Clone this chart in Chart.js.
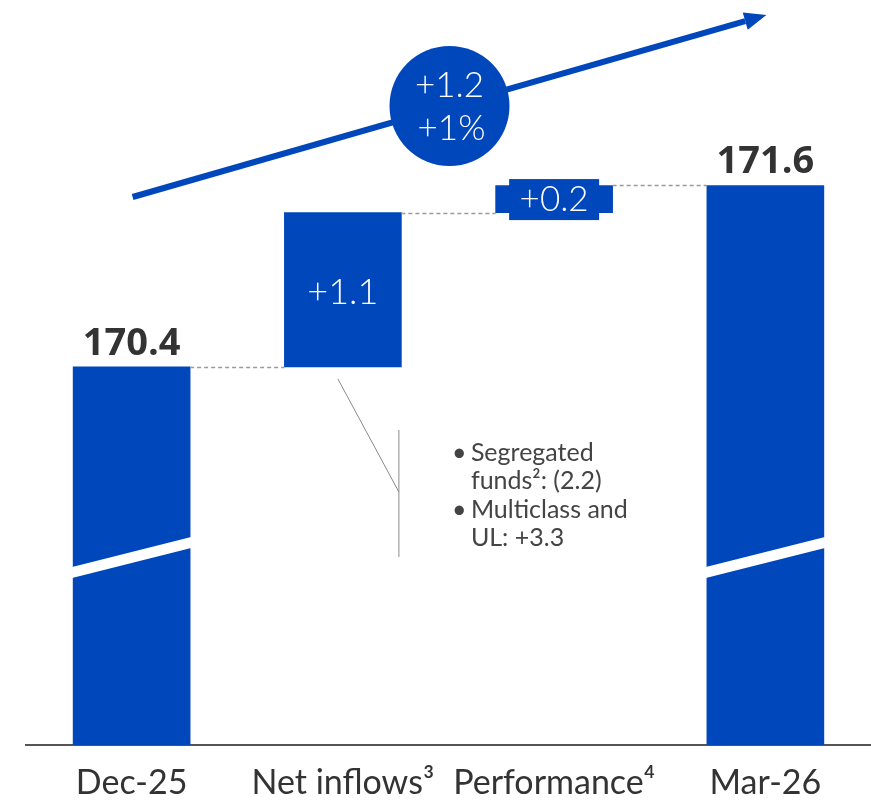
<!DOCTYPE html>
<html>
<head>
<meta charset="utf-8">
<script src="https://cdn.jsdelivr.net/npm/chart.js@4.4.1/dist/chart.umd.min.js"></script>
<style>
  html, body { margin: 0; padding: 0; background: #fff; }
  #wrap { width: 871px; height: 803px; position: relative; }
</style>
</head>
<body>
<div id="wrap"><canvas id="graficoAum"></canvas></div>
<script>
// categorias e valores
const categories = ['Dec-25', 'Net inflows³', 'Performance⁴', 'Mar-26'];
const startTotal = 170.4;
const netInflows = 1.02;     // altura da barra como desenhada
const performance = 0.18;
const endTotal = 171.6;
const totalLabels = ['170.4', '171.6'];
const stepLabels = ['+1.1', '+0.2'];
const changeLabels = ['+1.2', '+1%'];
const bulletLines = [
    ['•', 'Segregated'],
    ['', 'funds²: (2.2)'],
    ['•', 'Multiclass and'],
    ['', 'UL: +3.3']
];
// eixo cortado
const axisMin = 167.9;
const axisMax = 172.8;
const breakValue = 169.14;

const BLUE = '#0047BB';

const floating = [
    [axisMin, startTotal],
    [startTotal, startTotal + netInflows],
    [startTotal + netInflows, startTotal + netInflows + performance],
    [axisMin, endTotal]
];

const decor = {
    id: 'decor',
    afterDatasetsDraw(chart) {
        const ctx = chart.ctx;
        const y = chart.scales.y;
        const bars = chart.getDatasetMeta(0).data;
        const half = b => b.width / 2;

        ctx.save();

        // quebra diagonal nas barras de total
        const yb = y.getPixelForValue(breakValue);
        [bars[0], bars[3]].forEach(b => {
            const l = b.x - half(b) - 1, r = b.x + half(b) + 1;
            ctx.fillStyle = '#fff';
            ctx.beginPath();
            ctx.moveTo(l, yb + 9.5);
            ctx.lineTo(r, yb - 20.5);
            ctx.lineTo(r, yb - 9.5);
            ctx.lineTo(l, yb + 20.5);
            ctx.closePath();
            ctx.fill();
        });

        // linhas tracejadas de ligacao
        ctx.strokeStyle = '#9a9a9a';
        ctx.lineWidth = 1.5;
        ctx.setLineDash([4, 3]);
        const link = (a, b, v) => {
            const py = Math.round(y.getPixelForValue(v)) + 0.5;
            ctx.beginPath();
            ctx.moveTo(a.x + half(a), py);
            ctx.lineTo(b.x - half(b), py);
            ctx.stroke();
        };
        link(bars[0], bars[1], floating[0][1]);
        link(bars[1], bars[2], floating[1][1]);
        link(bars[2], bars[3], floating[2][1]);
        ctx.setLineDash([]);

        // caixa do +0.2
        const p = bars[2];
        const pc = (p.y + p.base) / 2;
        ctx.fillStyle = BLUE;
        ctx.fillRect(p.x - 45, pc - 20, 90, 41);

        // rotulos dos totais
        ctx.fillStyle = '#333';
        ctx.font = "700 38px 'Open Sans'";
        ctx.textAlign = 'center';
        ctx.textBaseline = 'alphabetic';
        ctx.fillText(totalLabels[0], bars[0].x, bars[0].y - 12);
        ctx.fillText(totalLabels[1], bars[3].x, bars[3].y - 12);

        // rotulos dos passos
        ctx.fillStyle = '#fff';
        ctx.textBaseline = 'middle';
        ctx.font = "300 36px Lato";
        ctx.fillText(stepLabels[0], bars[1].x, (bars[1].y + bars[1].base) / 2 + 3);
        ctx.font = "300 35px Lato";
        ctx.fillText(stepLabels[1], p.x, pc + 1);

        // seta de crescimento
        const x0 = bars[0].x + 1, y0 = 197;
        const x1 = bars[3].x + 1, y1 = 15;
        const ang = Math.atan2(y1 - y0, x1 - x0);
        const hl = 22, hw = 9;
        const bx = x1 - hl * Math.cos(ang), by = y1 - hl * Math.sin(ang);
        ctx.strokeStyle = BLUE;
        ctx.lineWidth = 6;
        ctx.beginPath();
        ctx.moveTo(x0, y0);
        ctx.lineTo(bx, by);
        ctx.stroke();
        ctx.fillStyle = BLUE;
        ctx.beginPath();
        ctx.moveTo(x1, y1);
        ctx.lineTo(bx + hw * Math.sin(ang), by - hw * Math.cos(ang));
        ctx.lineTo(bx - hw * Math.sin(ang), by + hw * Math.cos(ang));
        ctx.closePath();
        ctx.fill();

        // circulo com variacao
        const cx = (bars[1].x + bars[2].x) / 2 + 1;
        const cy = y0 + (cx - x0) * (y1 - y0) / (x1 - x0);
        ctx.beginPath();
        ctx.arc(cx, cy, 60, 0, Math.PI * 2);
        ctx.fill();
        ctx.fillStyle = '#fff';
        ctx.font = "300 35px Lato";
        ctx.fillText(changeLabels[0], cx, cy - 20);
        ctx.fillText(changeLabels[1], cx + 2, cy + 23);

        // chamada das entradas liquidas
        const n = bars[1];
        const vx = n.x + half(n) - 2.5;
        ctx.strokeStyle = '#8a8a8a';
        ctx.lineWidth = 1;
        ctx.beginPath();
        ctx.moveTo(n.x - 5, n.base + 12);
        ctx.lineTo(vx, n.base + 125);
        ctx.moveTo(vx, n.base + 63);
        ctx.lineTo(vx, n.base + 190);
        ctx.stroke();

        ctx.fillStyle = '#444';
        ctx.textAlign = 'left';
        ctx.textBaseline = 'alphabetic';
        ctx.font = "400 25px Lato";
        bulletLines.forEach((ln, i) => {
            const by2 = n.base + 94 + i * 28.5;
            if (ln[0]) ctx.fillText(ln[0], vx + 53, by2);
            ctx.fillText(ln[1], vx + 72, by2);
        });

        ctx.restore();
    }
};

new Chart(document.getElementById('graficoAum'), {
    type: 'bar',
    data: {
        labels: categories,
        datasets: [{
            data: floating,
            backgroundColor: BLUE,
            barThickness: 117,
            borderWidth: 0,
            borderSkipped: false
        }]
    },
    options: {
        responsive: true,
        maintainAspectRatio: false,
        animation: false,
        layout: { padding: { left: 26, right: 0, top: 4, bottom: 0 } },
        scales: {
            x: {
                grid: { display: false },
                border: { display: true, color: '#555', width: 2 },
                ticks: {
                    color: '#333',
                    font: { family: 'Lato', size: 34 },
                    padding: 10,
                    maxRotation: 0,
                    autoSkip: false
                },
                afterFit: s => { s.height = 58; }
            },
            y: {
                display: false,
                min: axisMin,
                max: axisMax
            }
        },
        plugins: {
            legend: { display: false },
            tooltip: { enabled: false }
        }
    },
    plugins: [decor]
});
</script>
</body>
</html>
